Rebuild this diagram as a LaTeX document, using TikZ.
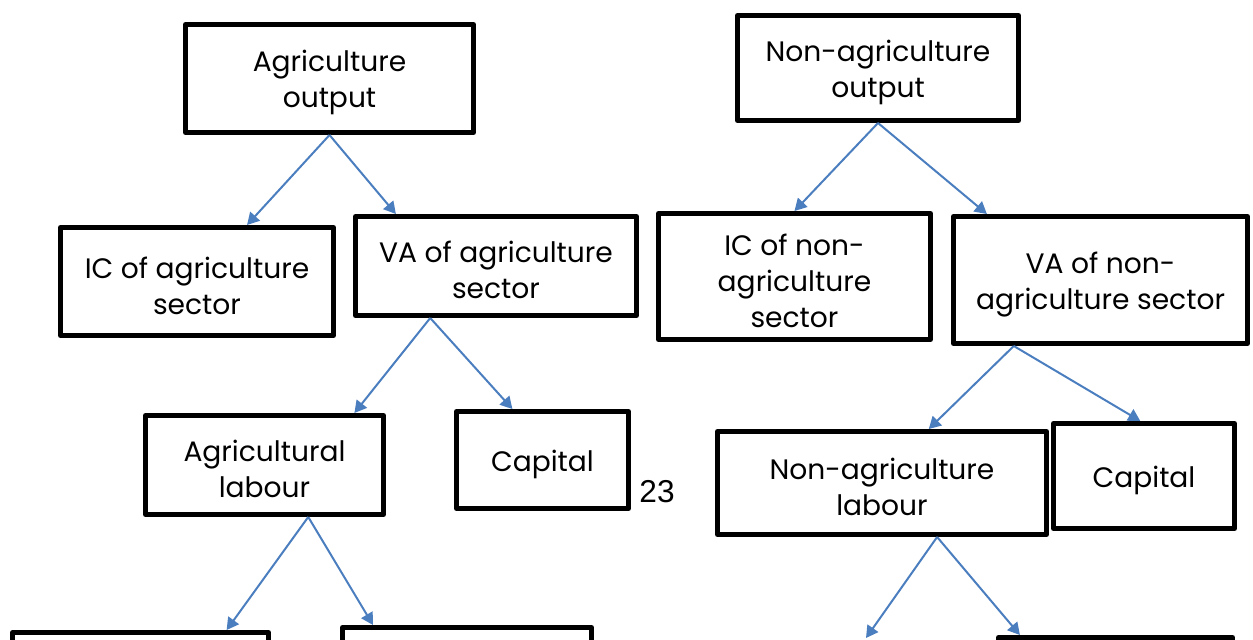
\documentclass[tikz,border=0pt]{standalone}
\usepackage{fontspec}
\setmainfont{Poppins}
\newfontfamily\numfont{Liberation Sans}
\usetikzlibrary{calc}
\usetikzlibrary{arrows.meta}

\definecolor{linkblue}{RGB}{74,126,190}

%% taller first line, so the text sits a little lower in its box
\newcommand\lift{\rule{0pt}{17pt}}

\tikzset{
  box/.style={draw, line width=0.1cm, line join=round, align=center,
    inner sep=0pt, font=\fontsize{16}{20.5}\selectfont},
  link/.style={draw=linkblue, line width=0.04cm,
    arrows={-Triangle[length=0.24cm,width=0.26cm]}},
}

\begin{document}
\begin{tikzpicture}

  %% page frame
  \clip (0,0) rectangle (25.06,12.78);

  %% agriculture side
  \node[box, minimum width=5.76cm, minimum height=2.16cm] (ag/out) at (6.59,11.21) {\lift Agriculture\\output};
  \node[box, minimum width=5.46cm, minimum height=2.16cm] (ag/ic) at (3.94,7.15) {\lift IC of agriculture\\sector};
  \node[box, minimum width=5.62cm, minimum height=1.98cm] (ag/va) at (9.92,7.46) {\lift VA of agriculture\\sector};
  \node[box, minimum width=4.76cm, minimum height=1.98cm] (ag/lab) at (5.29,3.48) {\lift Agricultural\\labour};
  \node[box, minimum width=3.44cm, minimum height=1.94cm] (ag/cap) at (10.85,3.58) {\lift Capital};
  %% boxes cut off at the bottom
  \node[box, anchor=north, minimum width=5.12cm, minimum height=2cm] (ag/x) at (2.81,0.18) {};
  \node[box, anchor=north, minimum width=4.98cm, minimum height=2cm] (ag/y) at (9.34,0.28) {};

  %% non-agriculture side
  \node[box, minimum width=5.62cm, minimum height=2.10cm] (nag/out) at (17.56,11.42) {\lift Non-agriculture\\output};
  \node[box, minimum width=5.44cm, minimum height=2.52cm] (nag/ic) at (15.89,7.25) {\lift IC of non-\\agriculture\\sector};
  \node[box, minimum width=5.88cm, minimum height=2.54cm] (nag/va) at (22.01,7.18) {\lift VA of non-\\agriculture sector};
  \node[box, minimum width=6.58cm, minimum height=2.06cm] (nag/lab) at (17.64,3.12) {\lift Non-agriculture\\labour};
  \node[box, minimum width=3.62cm, minimum height=2.10cm] (nag/cap) at (22.88,3.26) {\lift Capital};
  \coordinate (nag/x) at (17.32,0.02);
  \node[box, anchor=north, minimum width=4.68cm, minimum height=2cm] (nag/y) at (22.31,0.08) {};

  %% page number
  \node[font=\numfont\fontsize{18}{20}\selectfont] (pagenum) at (13.14,2.94) {23};

  %% arrows
  \draw[link] (ag/out.south) -- ($(ag/ic.north west)!0.68!(ag/ic.north east)$);
  \draw[link] (ag/out.south) -- ($(ag/va.north west)!0.15!(ag/va.north east)$);
  \draw[link] ($(ag/va.south west)!0.27!(ag/va.south east)$) -- ($(ag/lab.north west)!0.87!(ag/lab.north east)$);
  \draw[link] ($(ag/va.south west)!0.27!(ag/va.south east)$) -- ($(ag/cap.north west)!0.33!(ag/cap.north east)$);
  \draw[link] ($(ag/lab.south west)!0.68!(ag/lab.south east)$) -- ($(ag/x.north west)!0.83!(ag/x.north east)$);
  \draw[link] ($(ag/lab.south west)!0.68!(ag/lab.south east)$) -- ($(ag/y.north west)!0.13!(ag/y.north east)$);

  \draw[link] (nag/out.south) -- (nag/ic.north);
  \draw[link] (nag/out.south) -- ($(nag/va.north west)!0.12!(nag/va.north east)$);
  \draw[link] ($(nag/va.south west)!0.21!(nag/va.south east)$) -- ($(nag/lab.north west)!0.64!(nag/lab.north east)$);
  \draw[link] ($(nag/va.south west)!0.21!(nag/va.south east)$) -- ($(nag/cap.north west)!0.48!(nag/cap.north east)$);
  \draw[link] ($(nag/lab.south west)!0.665!(nag/lab.south east)$) -- (nag/x);
  \draw[link] ($(nag/lab.south west)!0.665!(nag/lab.south east)$) -- ($(nag/y.north west)!0.10!(nag/y.north east)$);

\end{tikzpicture}
\end{document}
